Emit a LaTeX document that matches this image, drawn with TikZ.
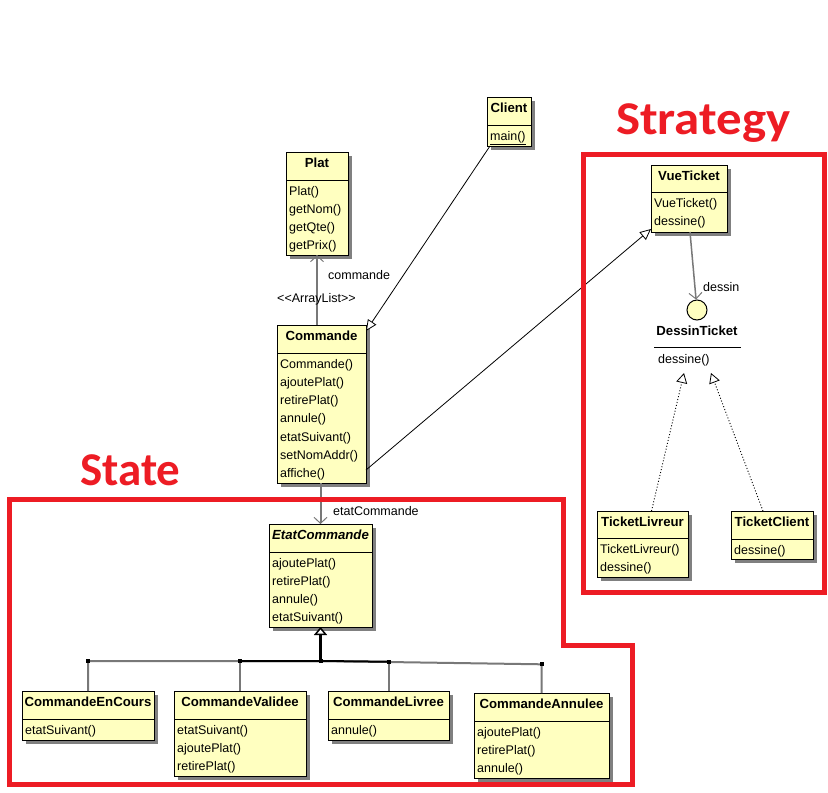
\documentclass[tikz,border=0pt]{standalone}
\usepackage{fontspec}
\setmainfont{Liberation Sans}
\newfontfamily\calfont{Carlito}
\usetikzlibrary{arrows.meta,calc}
\definecolor{boxfill}{RGB}{255,255,192}
\definecolor{redbox}{RGB}{237,28,36}
\definecolor{shadowc}{RGB}{128,128,128}
\definecolor{linegray}{RGB}{120,120,120}
\tikzset{
  classbox/.style={draw=black, fill=boxfill, line width=1pt, inner sep=0pt, outer sep=0pt},
  titletext/.style={anchor=base, inner sep=0pt, font=\fontsize{13.2}{15}\selectfont\bfseries},
  itemtext/.style={anchor=base west, inner sep=0pt, font=\fontsize{12.5}{15}\selectfont},
  lbl/.style={anchor=base west, inner sep=0pt, font=\fontsize{12.5}{15}\selectfont},
  divline/.style={line width=1pt, black},
  assoc/.style={draw=linegray, line width=2pt, -{Straight Barb[length=6pt,width=13pt,line width=1pt]}},
  realize/.style={draw=black, line width=0.8pt, -{Triangle[open,length=11pt,width=10pt,line width=0.8pt,fill=white]}},
  dotreal/.style={draw=black, line width=0.9pt, dash pattern=on 1pt off 2pt, -{Triangle[open,length=10pt,width=11pt,line width=0.8pt,fill=white]}},
  genstem/.style={draw=black, line width=3pt, -{Triangle[open,length=8pt,width=13pt,line width=1.5pt,fill=white]}},
  drop/.style={draw=linegray, line width=2pt},
  redline/.style={draw=redbox, line width=5pt, line join=miter},
  redtext/.style={anchor=base west, inner sep=0pt, text=redbox, font={\calfont\bfseries\fontsize{47}{50}\selectfont}},
  jdot/.style={fill=black, inner sep=0pt, minimum size=4pt, rectangle},
}
\newcommand{\umlbox}[8]{%
  \fill[shadowc] ({#2+4},{#3+4}) rectangle ({#4+4},{#6+4});
  \node[classbox, minimum width={(#4-#2)*1pt}, minimum height={(#6-#3)*1pt}] (#1) at ({(#2+#4)/2},{(#3+#6)/2}) {};
  \draw[divline] ({#2},{#5}) -- ({#4},{#5});
  \node[titletext] (#1-t) at ({(#2+#4)/2},{#3+15}) {#7};
  \foreach \itm [count=\i] in {#8} {\node[itemtext] (#1-\i) at ({#2+3},{#5+15+(\i-1)*18.3}) {\itm};}
}
\begin{document}
\begin{tikzpicture}[x=1pt,y=-1pt]
\useasboundingbox (0,0) rectangle (828,793);
\fill[white] (0,0) rectangle (828,793);

% classes
\umlbox{plat}{286}{152}{348}{180}{255}{Plat}{Plat(),getNom(),getQte(),getPrix()}
\umlbox{client}{487}{97}{531}{125}{146}{Client}{\underline{main()}}
\umlbox{commande}{277}{325}{366}{353}{483}{Commande}{Commande(),ajoutePlat(),retirePlat(),annule(),etatSuivant(),setNomAddr(),affiche()}
\umlbox{vue}{651}{165}{727}{192}{232}{VueTicket}{VueTicket(),dessine()}
\umlbox{tl}{597}{511}{688}{538}{577}{TicketLivreur}{TicketLivreur(),dessine()}
\umlbox{tc}{731}{511}{813}{539}{559}{TicketClient}{dessine()}
\umlbox{etat}{269}{524}{372}{552}{627}{\itshape EtatCommande}{ajoutePlat(),retirePlat(),annule(),etatSuivant()}
\umlbox{enc}{22}{691}{154}{719}{740}{CommandeEnCours}{etatSuivant()}
\umlbox{val}{174}{691}{306}{719}{776}{CommandeValidee}{etatSuivant(),ajoutePlat(),retirePlat()}
\umlbox{liv}{328}{691}{449}{719}{740}{CommandeLivree}{annule()}
\umlbox{ann}{474}{693}{609}{721}{778}{CommandeAnnulee}{ajoutePlat(),retirePlat(),annule()}

% interface DessinTicket
\node[circle, draw=black, fill=boxfill, line width=1pt, minimum size=20pt, inner sep=0pt] (circ) at (697,310) {};
\node[titletext] (dtitle) at (697,335) {DessinTicket};
\draw[divline] (654,347.5) -- (741,347.5);
\node[itemtext] (dmeth) at (658,363) {dessine()};
\coordinate (ir1) at (684,373);
\coordinate (ir2) at (711,373);

% connectors
\draw[assoc] (commande.north -| plat.south) -- (plat.south);
\node[lbl] (lcmd) at (328,279) {commande};
\node[lbl] (larr) at (277,302) {<\kern0pt<ArrayList>\kern0pt>};
\draw[realize] ($(client.south west)+(3,0)$) -- ($(commande.north east)+(0,6)$);
\draw[realize] ($(commande.south east)+(0,-13)$) -- ($(vue.south west)+(0,-3)$);
\draw[assoc] (commande.south -| etat.north) -- (etat.north);
\node[lbl] (letat) at (333,515) {etatCommande};
\draw[assoc, line width=1.5pt] ($(vue.south)+(1,0)$) -- (circ);
\node[lbl] (ldes) at (703,291) {dessin};
\draw[dotreal] ($(tl.north)+(9,0)$) -- (ir1);
\draw[dotreal] ($(tc.north)+(-9,0)$) -- (ir2);

% generalization tree
\coordinate (jy) at (0,661);
\coordinate (jry) at (0,664.3);
\coordinate (j) at (etat.south |- jy);
\coordinate (jr) at (ann.north |- jry);
\coordinate (jl) at ($(liv.north)+(0,-29.3)$);
\coordinate (je) at (enc.north |- jy);
\coordinate (jv) at (val.north |- jy);
\draw[drop] (enc.north) -- (je) -- (j) -- (jr) -- (ann.north);
\draw[drop] (val.north) -- (jv);
\draw[drop] (liv.north) -- (jl);
\draw[black, line width=2pt] (jv) -- (j) -- (jl);
\draw[genstem] (j) -- (etat.south);
\foreach \q in {je,jv,j,jl,jr}
  \node[jdot] (dot-\q) at (\q) {};

% red frames
\draw[redline] (583,154) rectangle (824,592);
\draw[redline] (9,499.5) -- (563,499.5) -- (563,645.5) -- (632,645.5) -- (632,784.5) -- (9,784.5) -- cycle;
\node[redtext] (strategy) at (616,134.3) {\scalebox{1.083}[1]{Strategy}};
\node[redtext] (state) at (80,485.7) {State};
\end{tikzpicture}
\end{document}
